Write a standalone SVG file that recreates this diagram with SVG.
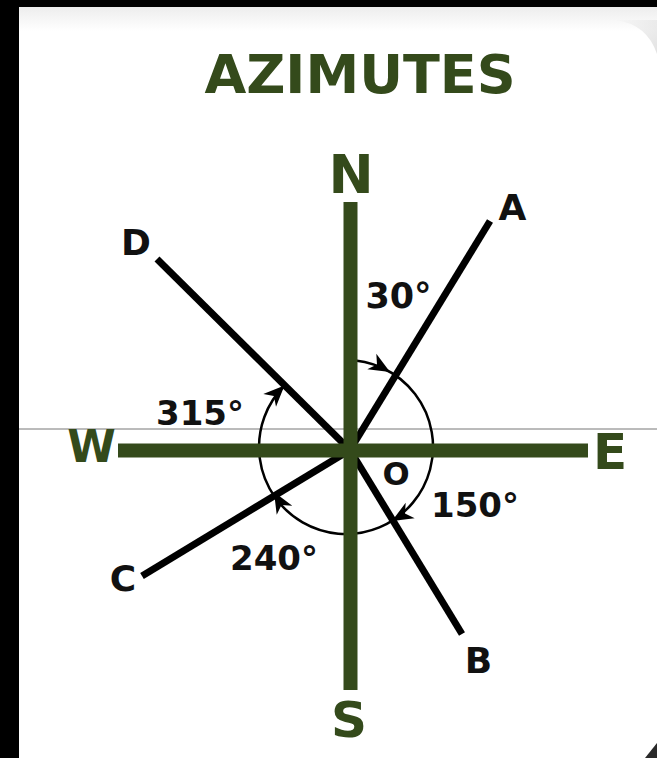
<svg xmlns="http://www.w3.org/2000/svg" width="657" height="758" viewBox="0 0 657 758">
  <defs>
    <linearGradient id="topband" x1="0" y1="0" x2="0" y2="1">
      <stop offset="0" stop-color="#ededed"/>
      <stop offset="1" stop-color="#ffffff"/>
    </linearGradient>
    <linearGradient id="curl" x1="0" y1="0" x2="1" y2="1">
      <stop offset="0" stop-color="#f6f6f6"/>
      <stop offset="1" stop-color="#cfcfcf"/>
    </linearGradient>
    <polygon id="arrowhead" points="0,0 -21,-9 -15,0 -21,9"/>
  </defs>
  <style>
    .axis { stroke: #344a1b; stroke-width: 14; fill: none; }
    .ray { stroke: #000; stroke-width: 7; fill: none; }
    .arc { stroke: #000; stroke-width: 2.5; fill: none; }
    .dir { font-family: "DejaVu Sans", "Liberation Sans", sans-serif; font-weight: bold; fill: #344a1b; text-anchor: middle; }
    .lbl { font-family: "DejaVu Sans", "Liberation Sans", sans-serif; font-weight: bold; fill: #111; text-anchor: middle; }
  </style>

  <!-- background / card -->
  <rect x="0" y="0" width="657" height="758" fill="#000"/>
  <rect x="19" y="7" width="660" height="760" fill="#fff"/>
  <rect x="19" y="7" width="640" height="24" fill="url(#topband)"/>
  <path d="M 615,20 Q 647,24 657,54 L 657,20 Z" fill="url(#curl)" opacity="0.6"/>
  <polygon points="645,758 657,743 657,758" fill="#2a2a2a"/>

  <!-- thin reference line -->
  <line x1="19" y1="429" x2="657" y2="429" stroke="#777" stroke-width="1"/>

  <!-- title -->
  <g id="title">
    <text class="dir" x="360" y="93" font-size="54">AZIMUTES</text>
  </g>

  <!-- connectors: rays, arc, arrowheads -->
  <g id="connectors">
    <line class="ray" x1="157" y1="259" x2="350" y2="450"/>
    <line class="ray" x1="350" y1="450" x2="490" y2="221"/>
    <line class="ray" x1="350" y1="450" x2="142" y2="576"/>
    <line class="ray" x1="350" y1="450" x2="462" y2="634"/>
    <path class="arc" d="M 346,360 A 87 87 0 1 1 284.5,385.5"/>
    <use href="#arrowhead" transform="translate(390,372) rotate(30)"/>
    <use href="#arrowhead" transform="translate(392,521) rotate(150)"/>
    <use href="#arrowhead" transform="translate(274,492) rotate(240)"/>
    <use href="#arrowhead" transform="translate(284.5,385.5) rotate(315)"/>
  </g>

  <!-- compass axes -->
  <g id="axes">
    <line class="axis" x1="350.5" y1="202" x2="350.5" y2="690"/>
    <line class="axis" x1="118" y1="450.5" x2="588" y2="450.5"/>
  </g>

  <g id="node-N"><text class="dir" x="351" y="193" font-size="54">N</text></g>
  <g id="node-S"><text class="dir" x="349" y="737" font-size="50">S</text></g>
  <g id="node-E"><text class="dir" x="610" y="469" font-size="50">E</text></g>
  <g id="node-W"><text class="dir" x="91.5" y="462" font-size="44">W</text></g>

  <g id="node-A"><text class="lbl" x="512.5" y="220" font-size="36">A</text></g>
  <g id="node-B"><text class="lbl" x="478.5" y="673" font-size="36">B</text></g>
  <g id="node-C"><text class="lbl" x="123" y="591" font-size="36">C</text></g>
  <g id="node-D"><text class="lbl" x="136" y="255" font-size="36">D</text></g>
  <g id="node-O"><text class="lbl" x="396" y="485" font-size="32">O</text></g>

  <g id="label-30"><text class="lbl" x="398.5" y="308" font-size="35">30°</text></g>
  <g id="label-315"><text class="lbl" x="200" y="425" font-size="34">315°</text></g>
  <g id="label-150"><text class="lbl" x="475" y="517" font-size="34">150°</text></g>
  <g id="label-240"><text class="lbl" x="274" y="570" font-size="34">240°</text></g>
</svg>
